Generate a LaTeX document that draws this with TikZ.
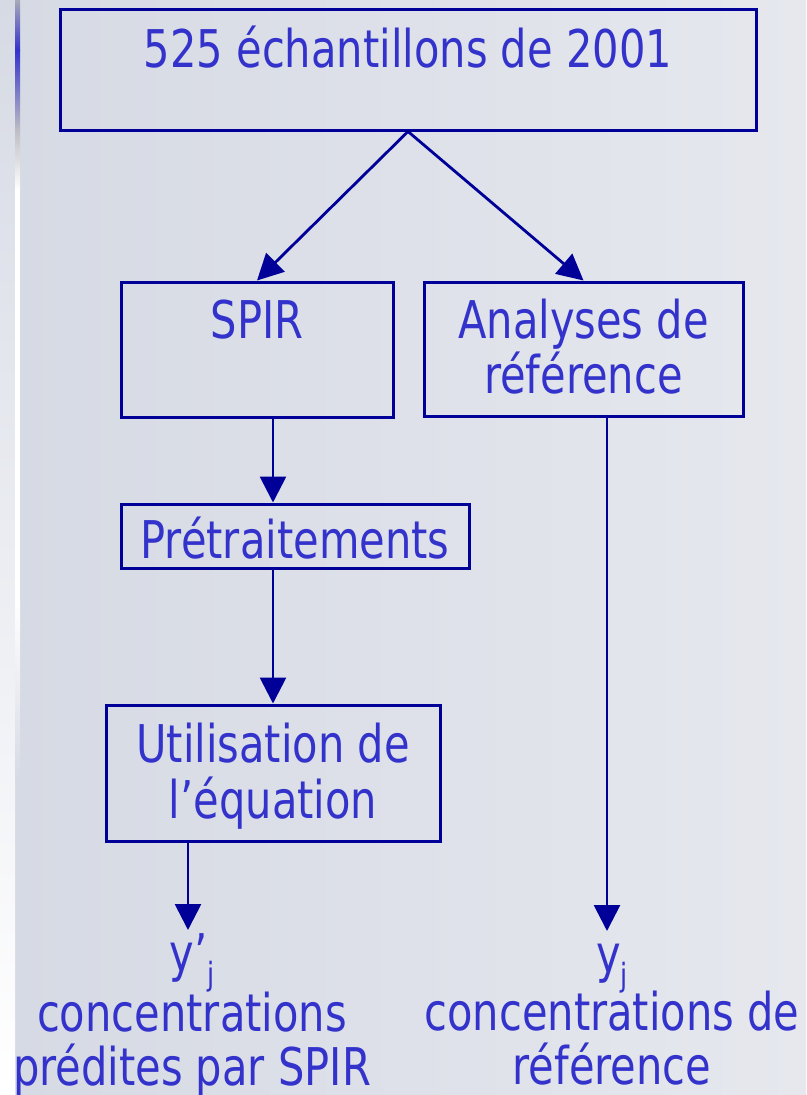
\documentclass[tikz,border=0pt]{standalone}
\usepackage{fontspec}
\setmainfont{DejaVu Sans}[FakeStretch=0.8]
\usetikzlibrary{arrows.meta}
\definecolor{txtblue}{HTML}{3333CC}
\definecolor{lineblue}{HTML}{000099}
\definecolor{bgleft}{HTML}{D6DAE4}
\definecolor{bgright}{HTML}{E6E8EE}
\definecolor{bargray}{HTML}{A9AAB9}
\definecolor{barlight}{HTML}{BDBDC4}
% fixed first-line height, so a text node's north edge sits 50pt above its first baseline
\newcommand\lnstrut{\rule{0pt}{50pt}}
\newcommand\subj{\raisebox{-14pt}{\fontsize{32}{32}\selectfont j}}
\begin{document}
\begin{tikzpicture}[x=1pt,y=-1pt,
  box/.style={draw=lineblue, line width=3pt, rectangle, inner sep=0pt},
  txt/.style={text=txtblue, inner sep=0pt, anchor=north, align=center},
  arr/.style={draw=lineblue, line width=2.8pt, -{Triangle[length=26pt,width=26pt]}}]
\useasboundingbox (0,0) rectangle (806,1095);

% slide background
\shade[left color=bgleft, right color=bgright] (15,0) rectangle (806,1095);
\shade[top color=bgleft, bottom color=white] (0,0) rectangle (15,1095);
% decorative strip on the left
\shade[top color=bargray, bottom color=txtblue] (15,0) rectangle (20,50);
\shade[top color=txtblue, bottom color=barlight] (15,50) rectangle (20,130);
\shade[top color=barlight, bottom color=white] (15,130) rectangle (20,190);
\fill[white] (15,190) rectangle (20,600);
\shade[top color=white, bottom color=bgleft] (15,600) rectangle (20,780);

% boxes
\node[box, minimum width=696pt, minimum height=121pt] (top) at (408,69.5) {};
\node[box, minimum width=272pt, minimum height=135pt] (spir) at (257,349.5) {};
\node[box, minimum width=319pt, minimum height=134pt] (ana) at (583.5,349) {};
\node[box, minimum width=348pt, minimum height=64pt] (pre) at (295,536) {};
\node[box, minimum width=334pt, minimum height=136pt] (util) at (273,773) {};

% box texts
\node[txt, font={\fontsize{52}{52}\selectfont}] (ttop) at (408,17) {\lnstrut 525 échantillons de 2001};
\node[txt, font={\fontsize{52}{52}\selectfont}] (tspir) at (257,288) {\lnstrut SPIR};
\node[txt, font={\fontsize{52}{55}\selectfont\lineskiplimit=-100pt}] (tana) at (583.5,288) {\lnstrut Analyses de\\référence};
\node[txt, font={\fontsize{52}{52}\selectfont}] (tpre) at (295,508) {\lnstrut Prétraitements};
\node[txt, font={\fontsize{52}{56}\selectfont\lineskiplimit=-100pt}] (tutil) at (273,712) {\lnstrut Utilisation de\\l’équation};

% result labels
\node[txt, font={\fontsize{52}{54}\selectfont\lineskiplimit=-100pt}] (ylabL) at (192,921)
  {\lnstrut y’\subj\\[6pt]concentrations\\prédites par SPIR};
\node[txt, font={\fontsize{52}{54}\selectfont\lineskiplimit=-100pt}] (ylabR) at (612,922)
  {\lnstrut y\subj\\[4pt]concentrations de\\référence};
\coordinate (tipL) at (188,930);
\coordinate (tipR) at (607,931);

% connectors
\draw[arr] (top.south) -- (spir.north);
\draw[arr] (top.south) -- (ana.north);
\draw[arr] (spir.south -| util.north) -- (pre.north -| util.north);
\draw[arr] (pre.south -| util.north) -- (util.north);
\draw[arr] (util.south -| tipL) -- (tipL);
\draw[arr] (ana.south -| tipR) -- (tipR);
\end{tikzpicture}
\end{document}
